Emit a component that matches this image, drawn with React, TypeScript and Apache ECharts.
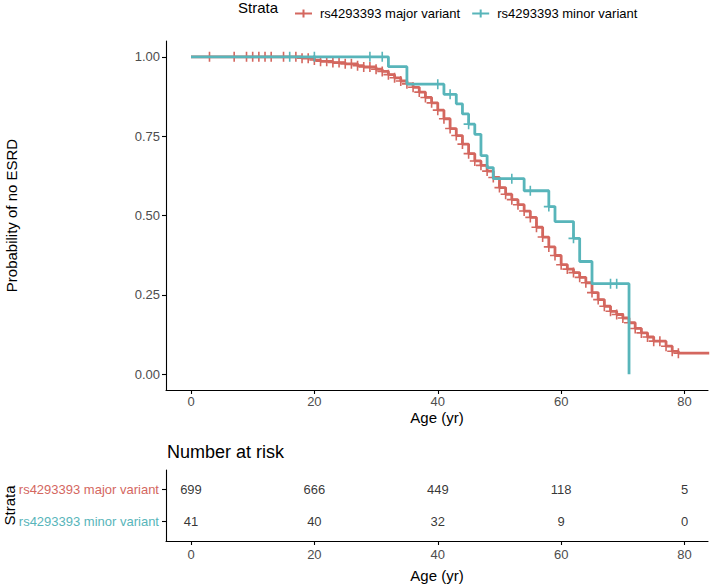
import React, { useEffect, useRef } from "react";
import * as echarts from "echarts";

const RED = "#D4675F";
const TEAL = "#58B5BA";
const FONT = "'Liberation Sans', Arial, Helvetica, sans-serif";

const strataNames = ["rs4293393 major variant", "rs4293393 minor variant"];

// Kaplan-Meier step points (time in years, survival after the drop at that time)
const majorTime = [0, 18, 20, 21, 23, 25, 27, 28, 30, 31, 32, 33, 34, 35, 36, 37, 38, 39, 40, 41, 42, 43, 44, 45, 46, 47, 48, 49, 50, 51, 52, 53, 54, 55, 56, 57, 58, 59, 60, 61, 62, 63, 64, 65, 66, 67, 68, 69, 70, 71, 72, 73, 74, 75, 77, 78, 79, 84];
const majorSurv = [1, 0.996, 0.99, 0.986, 0.982, 0.978, 0.972, 0.968, 0.961, 0.954, 0.944, 0.934, 0.924, 0.915, 0.904, 0.889, 0.872, 0.855, 0.832, 0.805, 0.774, 0.752, 0.725, 0.695, 0.672, 0.658, 0.64, 0.62, 0.588, 0.567, 0.55, 0.534, 0.514, 0.494, 0.463, 0.432, 0.401, 0.374, 0.345, 0.331, 0.32, 0.305, 0.288, 0.257, 0.235, 0.214, 0.198, 0.188, 0.177, 0.162, 0.144, 0.13, 0.117, 0.104, 0.088, 0.072, 0.066, 0.066];

const minorTime = [0, 32, 35, 41, 43, 44, 45, 46, 47, 48, 49, 54, 58, 59, 62, 63, 65, 71];
const minorSurv = [1, 0.969, 0.914, 0.882, 0.852, 0.82, 0.788, 0.756, 0.689, 0.651, 0.616, 0.578, 0.528, 0.481, 0.428, 0.355, 0.285, 0];

// censoring times
const majorCensor = [3, 7, 9, 10, 11, 12, 13, 15, 17, 18, 19, 20, 21, 22, 23, 24, 25, 26, 27, 28, 29, 30, 31, 32, 33, 34, 35, 36, 37, 38, 39, 40, 41, 42, 43, 44, 45, 46, 47, 48, 49, 50, 51, 52, 53, 54, 55, 56, 57, 58, 59, 60, 61, 62, 63, 64, 65, 66, 67, 68, 69, 70, 71, 72, 73, 74, 75, 76, 77, 78, 79, 84];
const minorCensor = [16, 20, 29, 31, 40, 42, 45, 52, 55, 58, 62, 68, 69];

// number at risk
const riskTimes = [0, 20, 40, 60, 80];
const riskMajor = [699, 666, 449, 118, 5];
const riskMinor = [41, 40, 32, 9, 0];

const xTicks = [0, 20, 40, 60, 80];
const yTicks = [0, 0.25, 0.5, 0.75, 1];

function survAt(times: number[], surv: number[], t: number) {
  let s = surv[0];
  for (let i = 0; i < times.length; i++) if (times[i] <= t) s = surv[i];
  return s;
}

const PLUS = "path://M0,4.2H10V5.8H0Z M4.2,0H5.8V10H4.2Z";
const LEGEND_ICON = "path://M0,3H17V5H0Z M7.5,0H9.5V8H7.5Z";

export default function App() {
  const ref = useRef<HTMLDivElement>(null);
  useEffect(() => {
    if (!ref.current) return;
    const chart = echarts.init(ref.current, undefined, { renderer: "svg" });
    const XMIN = -4.05;
    const XMAX = 83.8;
    const axisLine = { show: true, onZero: false, lineStyle: { color: "#000", width: 1.1 } };
    const axisTick = { show: true, length: 4, lineStyle: { color: "#000", width: 1.1 } };
    const tickLabel = { color: "#4D4D4D", fontSize: 13, fontFamily: FONT };

    const option: any = {
      animation: false,
      backgroundColor: "#fff",
      textStyle: { fontFamily: FONT },
      legend: {
        top: 2,
        left: 290,
        itemWidth: 17,
        itemHeight: 8,
        itemGap: 12,
        data: [
          { name: strataNames[0], icon: LEGEND_ICON, itemStyle: { color: RED } },
          { name: strataNames[1], icon: LEGEND_ICON, itemStyle: { color: TEAL } },
        ],
        textStyle: { fontSize: 13, color: "#000", fontFamily: FONT, padding: [0, 0, 0, 3] },
      },
      graphic: [
        {
          type: "text",
          left: 238,
          top: 0,
          style: { text: "Strata", fontSize: 15, fill: "#000", fontFamily: FONT },
        },
        {
          type: "text",
          left: 167,
          top: 443,
          style: { text: "Number at risk", fontSize: 18, fill: "#000", fontFamily: FONT },
        },
      ],
      grid: [
        { left: 166, right: 3, top: 41, height: 349, containLabel: false, outerBoundsMode: "none" },
        { left: 166, right: 3, top: 470, height: 71, containLabel: false, outerBoundsMode: "none" },
      ],
      xAxis: [
        {
          type: "value",
          gridIndex: 0,
          min: XMIN,
          max: XMAX,
          name: "Age (yr)",
          nameLocation: "middle",
          nameGap: 20,
          nameMoveOverlap: false,
          nameTextStyle: { fontSize: 15, color: "#000", fontFamily: FONT },
          axisLine,
          axisTick: { ...axisTick, customValues: xTicks },
          axisLabel: { ...tickLabel, margin: 5, customValues: xTicks },
          splitLine: { show: false },
        },
        {
          type: "value",
          gridIndex: 1,
          min: XMIN,
          max: XMAX,
          name: "Age (yr)",
          nameLocation: "middle",
          nameGap: 27,
          nameMoveOverlap: false,
          nameTextStyle: { fontSize: 15, color: "#000", fontFamily: FONT },
          axisLine,
          axisTick: { ...axisTick, customValues: xTicks },
          axisLabel: { ...tickLabel, margin: 7, customValues: xTicks },
          splitLine: { show: false },
        },
      ],
      yAxis: [
        {
          type: "value",
          gridIndex: 0,
          min: -0.05,
          max: 1.05,
          name: "Probability of no ESRD",
          nameLocation: "middle",
          nameGap: 147,
          nameRotate: 90,
          nameMoveOverlap: false,
          nameTextStyle: { fontSize: 15, color: "#000", fontFamily: FONT },
          axisLine,
          axisTick: { ...axisTick, customValues: yTicks },
          axisLabel: {
            ...tickLabel,
            margin: 6,
            customValues: yTicks,
            formatter: (v: number) => v.toFixed(2),
          },
          splitLine: { show: false },
        },
        {
          type: "value",
          gridIndex: 1,
          min: 0.4,
          max: 2.6,
          name: "Strata",
          nameLocation: "middle",
          nameGap: 149,
          nameRotate: 90,
          nameMoveOverlap: false,
          nameTextStyle: { fontSize: 15, color: "#000", fontFamily: FONT },
          axisLine,
          axisTick: { ...axisTick, customValues: [1, 2] },
          axisLabel: {
            margin: 7,
            customValues: [1, 2],
            formatter: (v: number) =>
              v === 2 ? "{maj|" + strataNames[0] + "}" : "{min|" + strataNames[1] + "}",
            rich: {
              maj: { color: RED, fontSize: 13, fontFamily: FONT },
              min: { color: TEAL, fontSize: 13, fontFamily: FONT },
            },
          },
          splitLine: { show: false },
        },
      ],
      series: [
        {
          name: strataNames[0],
          type: "line",
          step: "end",
          xAxisIndex: 0,
          yAxisIndex: 0,
          showSymbol: false,
          symbol: "none",
          lineStyle: { color: RED, width: 2.8 },
          itemStyle: { color: RED },
          data: majorTime.map((t, i) => [t, majorSurv[i]]),
          z: 2,
        },
        {
          name: strataNames[0],
          type: "scatter",
          xAxisIndex: 0,
          yAxisIndex: 0,
          symbol: PLUS,
          symbolSize: 10,
          itemStyle: { color: RED, opacity: 1 },
          data: majorCensor.map((t) => [t, survAt(majorTime, majorSurv, t)]),
          z: 3,
        },
        {
          name: strataNames[1],
          type: "line",
          step: "end",
          xAxisIndex: 0,
          yAxisIndex: 0,
          showSymbol: false,
          symbol: "none",
          lineStyle: { color: TEAL, width: 2.8 },
          itemStyle: { color: TEAL },
          data: minorTime.map((t, i) => [t, minorSurv[i]]),
          z: 4,
        },
        {
          name: strataNames[1],
          type: "scatter",
          xAxisIndex: 0,
          yAxisIndex: 0,
          symbol: PLUS,
          symbolSize: 10,
          itemStyle: { color: TEAL, opacity: 1 },
          data: minorCensor.map((t) => [t, survAt(minorTime, minorSurv, t)]),
          z: 5,
        },
        {
          type: "scatter",
          xAxisIndex: 1,
          yAxisIndex: 1,
          symbolSize: 0,
          silent: true,
          data: [
            ...riskTimes.map((t, i) => [t, 2, riskMajor[i]]),
            ...riskTimes.map((t, i) => [t, 1, riskMinor[i]]),
          ],
          label: {
            show: true,
            position: "inside",
            formatter: (p: any) => String(p.value[2]),
            fontSize: 13,
            color: "#000",
            fontFamily: FONT,
          },
        },
      ],
    };
    chart.setOption(option);
    return () => chart.dispose();
  }, []);
  return <div ref={ref} style={{ width: 711, height: 585, position: "absolute", left: 0, top: 0 }} />;
}
